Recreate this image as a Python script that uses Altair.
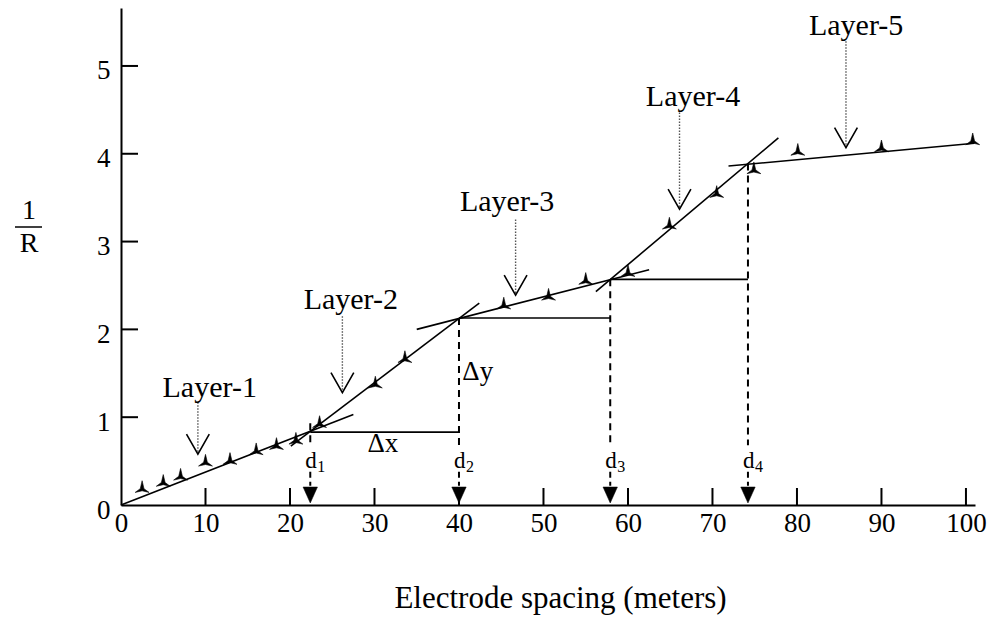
import altair as alt
import pandas as pd

# ---------------- data ----------------
spacing = [2.5, 5.0, 7.05, 10.0, 12.9, 16.0, 18.4, 20.7, 23.5, 30.1, 33.6,
           45.3, 50.6, 55.0, 60.0, 64.9, 70.5, 74.9, 80.1, 90.0, 100.8]
inv_r = [0.19, 0.26, 0.33, 0.49, 0.51, 0.62, 0.68, 0.74, 0.93, 1.38, 1.67,
         2.28, 2.38, 2.56, 2.65, 3.19, 3.55, 3.82, 4.03, 4.07, 4.15]

# fitted straight-line segments (one per layer)
seg_x1 = [0.0, 20.1, 35.0, 56.2, 71.9]
seg_y1 = [0.0, 0.67, 2.00, 2.43, 3.86]
seg_x2 = [27.5, 42.4, 62.5, 77.8, 101.0]
seg_y2 = [1.03, 2.30, 2.68, 4.18, 4.12]

# break points d1..d4 and the horizontal construction lines
d_x = [22.4, 40.0, 57.9, 74.2]
d_top = [0.93, 2.13, 2.57, 3.89]
d_sub = ["1", "2", "3", "4"]
h_x1 = [22.4, 40.0, 57.9]
h_x2 = [40.0, 57.9, 74.2]
h_y = [0.83, 2.13, 2.57]

# layer annotations
layer_names = ["Layer-1", "Layer-2", "Layer-3", "Layer-4", "Layer-5"]
label_x = [10.5, 27.2, 45.7, 67.7, 87.0]
label_y = [1.33, 2.33, 3.45, 4.65, 5.45]
arrow_x = [9.1, 26.2, 46.7, 66.1, 85.8]
arrow_top = [1.17, 2.15, 3.25, 4.47, 5.28]
arrow_tip = [0.58, 1.28, 2.39, 3.37, 4.07]

x_ticks = [0, 10, 20, 30, 40, 50, 60, 70, 80, 90, 100]
y_ticks = [0, 1, 2, 3, 4, 5]

# ---------------- chart ----------------
FONT = "Liberation Serif"
W, H = 854, 497
XS = alt.Scale(domain=[0, 101.07], nice=False, zero=False)
YS = alt.Scale(domain=[0, 5.66], nice=False, zero=False)

XAX = alt.Axis(
    values=x_ticks, tickSize=0, grid=False, domainColor="black", domainWidth=2,
    labelFont=FONT, labelFontSize=27, labelColor="black", labelPadding=5,
    labelFlush=False, labelOverlap=False,
    title="Electrode spacing (meters)", titleFont=FONT, titleFontSize=31,
    titleFontWeight="normal", titleColor="black", titleX=439, titleY=102,
    titleBaseline="alphabetic", titleAnchor="middle")
YAX = alt.Axis(
    values=y_ticks, tickSize=0, grid=False, domainColor="black", domainWidth=2,
    labelFont=FONT, labelFontSize=27, labelColor="black", labelPadding=11,
    labelOffset=5, title="")

pts = pd.DataFrame({"x": spacing, "y": inv_r})
segs = pd.DataFrame({"x": seg_x1, "y": seg_y1, "x2": seg_x2, "y2": seg_y2})
hl = pd.DataFrame({"x": h_x1, "x2": h_x2, "y": h_y})
dd = pd.DataFrame({"x": d_x, "top": d_top, "sub": d_sub})
ll = pd.DataFrame({"name": layer_names, "lx": label_x, "ly": label_y,
                   "ax": arrow_x, "at": arrow_top, "tip": arrow_tip})
xt = pd.DataFrame({"v": x_ticks[1:]})
yt = pd.DataFrame({"v": y_ticks[1:]})


def nx(field):
    return alt.X(field, scale=XS, axis=XAX)


def ny(field):
    return alt.Y(field, scale=YS, axis=YAX)


marker = "M0,-1.15 L0.28,0.05 L1.05,0.62 L0,0.38 L-1.05,0.62 L-0.28,0.05 Z"

points = alt.Chart(pts).mark_point(
    shape=marker, filled=True, fill="black", stroke="black", strokeWidth=0.6,
    size=175, opacity=1
).encode(x=nx("x:Q"), y=ny("y:Q"))

xtick_marks = alt.Chart(xt).mark_rule(color="black", strokeWidth=2).encode(
    x=nx("v:Q"), y=alt.value(H), y2=alt.value(H - 17))
ytick_marks = alt.Chart(yt).mark_rule(color="black", strokeWidth=2).encode(
    y=ny("v:Q"), x=alt.value(0), x2=alt.value(17))

fit_lines = alt.Chart(segs).mark_rule(color="black", strokeWidth=1.6).encode(
    x=nx("x:Q"), y=ny("y:Q"), x2="x2:Q", y2="y2:Q")

hlines = alt.Chart(hl).mark_rule(color="black", strokeWidth=1.6).encode(
    x=nx("x:Q"), x2="x2:Q", y=ny("y:Q"))

dash_upper = alt.Chart(dd).transform_calculate(lo="0.68").mark_rule(
    color="black", strokeWidth=2, strokeDash=[7, 5]).encode(
    x=nx("x:Q"), y=ny("top:Q"), y2="lo:Q")
dash_lower = alt.Chart(dd).transform_calculate(hi="0.38", lo="0.22").mark_rule(
    color="black", strokeWidth=2, strokeDash=[6, 4]).encode(
    x=nx("x:Q"), y=ny("hi:Q"), y2="lo:Q")
d_arrows = alt.Chart(dd).transform_calculate(b="0").mark_point(
    shape="M-0.9,-2.25 L0.9,-2.25 L0,-0.25 Z", filled=True, fill="black",
    stroke="black", strokeWidth=0.5, size=256, opacity=1).encode(
    x=nx("x:Q"), y=ny("b:Q"))
d_main = alt.Chart(dd).transform_calculate(ty="0.5").mark_text(
    text="d", font=FONT, fontSize=23, align="left", baseline="middle", dx=-5,
    color="black").encode(x=nx("x:Q"), y=ny("ty:Q"))
d_subs = alt.Chart(dd).transform_calculate(ty="0.5").mark_text(
    font=FONT, fontSize=16, align="left", baseline="middle", dx=7, dy=6,
    color="black").encode(x=nx("x:Q"), y=ny("ty:Q"), text="sub:N")

dxy = pd.DataFrame({"t": ["Δx", "Δy"], "x": [31.0, 40.4], "y": [0.70, 1.52]})
delta_x = alt.Chart(dxy.iloc[[0]]).mark_text(
    font=FONT, fontSize=27, align="center", baseline="middle", color="black").encode(
    x=nx("x:Q"), y=ny("y:Q"), text="t:N")
delta_y = alt.Chart(dxy.iloc[[1]]).mark_text(
    font=FONT, fontSize=27, align="left", baseline="middle", color="black").encode(
    x=nx("x:Q"), y=ny("y:Q"), text="t:N")

layer_text = alt.Chart(ll).mark_text(
    font=FONT, fontSize=30, align="center", baseline="middle", color="black").encode(
    x=nx("lx:Q"), y=ny("ly:Q"), text="name:N")
layer_dots = alt.Chart(ll).mark_rule(
    color="#555555", strokeWidth=1.4, strokeDash=[1.5, 1.5]).encode(
    x=nx("ax:Q"), y=ny("at:Q"), y2="tip:Q")
layer_heads = alt.Chart(ll).mark_point(
    shape="M-1,-1.75 L0,0 L1,-1.75", filled=False, stroke="black", strokeWidth=1.6,
    size=520, opacity=1).encode(x=nx("ax:Q"), y=ny("tip:Q"))

# y axis title as a fraction 1/R
one = pd.DataFrame({"t": ["1"]})
r_df = pd.DataFrame({"t": ["R"]})
frac_one = alt.Chart(one).mark_text(font=FONT, fontSize=28, color="black",
                                    align="center", baseline="middle").encode(
    x=alt.value(-92), y=alt.value(203), text="t:N")
frac_bar = alt.Chart(one).mark_rule(color="black", strokeWidth=1.5).encode(
    x=alt.value(-106), x2=alt.value(-79), y=alt.value(219))
frac_r = alt.Chart(r_df).mark_text(font=FONT, fontSize=28, color="black",
                                   align="center", baseline="middle").encode(
    x=alt.value(-92), y=alt.value(236), text="t:N")

chart = alt.layer(
    points, xtick_marks, ytick_marks, fit_lines, hlines, dash_upper, dash_lower,
    d_arrows, d_main, d_subs, delta_x, delta_y, layer_dots, layer_heads,
    layer_text, frac_one, frac_bar, frac_r
).properties(
    width=W, height=H, autosize="none",
    padding={"left": 121, "top": 8, "right": 22, "bottom": 137},
    background="white"
).configure_view(stroke=None)

chart.save("out.html", embed_options={"renderer": "svg", "actions": False})
